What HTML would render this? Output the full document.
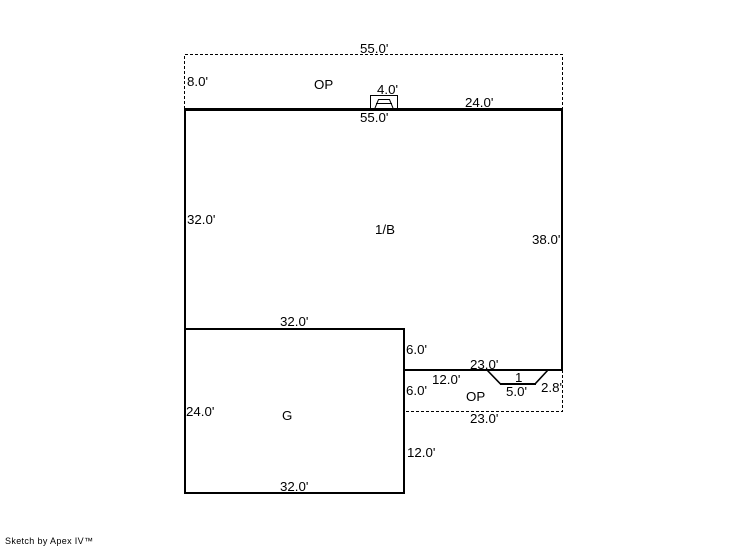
<!DOCTYPE html>
<html><head><meta charset="utf-8"><style>
html,body{margin:0;padding:0;background:#fff}
svg{display:block}
text{font-family:"Liberation Sans",sans-serif;font-size:13.3px;fill:#000}
</style></head><body>
<svg width="746" height="547" viewBox="0 0 746 547" xmlns="http://www.w3.org/2000/svg">
<g fill="none" stroke="#000" stroke-width="1" stroke-dasharray="3 2" shape-rendering="crispEdges">
<path d="M184.5 109V54.5H562.5V109"/>
<path d="M562.5 370V411.5H404"/>
</g>
<g fill="none" stroke="#000" stroke-width="2" shape-rendering="crispEdges">
<path d="M562 109V370H404"/>
<path d="M185 108V493H404V329H185"/>
</g>
<rect x="184" y="108" width="379" height="3" fill="#000" shape-rendering="crispEdges"/>
<g fill="none" stroke="#000" stroke-width="1" shape-rendering="crispEdges">
<path d="M370.5 108V95.5H397.5V108"/>
<path d="M376 103.5H392"/>
</g>
<g fill="none" stroke="#000" stroke-width="1">
<path d="M375 108L378.5 99.5H389.5L393 108"/>
</g>
<path d="M487 370L500.5 384M548 370L535 384" fill="none" stroke="#000" stroke-width="1.6"/>
<rect x="500" y="383" width="36" height="2" fill="#000" shape-rendering="crispEdges"/>
<text x="360" y="53">55.0'</text>
<text x="187" y="86">8.0'</text>
<text x="314" y="89">OP</text>
<text x="377" y="94">4.0'</text>
<text x="465" y="107">24.0'</text>
<text x="360" y="122">55.0'</text>
<text x="187" y="224">32.0'</text>
<text x="375" y="234">1/B</text>
<text x="532" y="244">38.0'</text>
<text x="280" y="326">32.0'</text>
<text x="406" y="354">6.0'</text>
<text x="470" y="369">23.0'</text>
<text x="432" y="384">12.0'</text>
<text x="515" y="382">1</text>
<text x="406" y="395">6.0'</text>
<text x="506" y="396">5.0'</text>
<text x="541" y="392">2.8'</text>
<text x="466" y="401">OP</text>
<text x="186" y="416">24.0'</text>
<text x="282" y="420">G</text>
<text x="470" y="423">23.0'</text>
<text x="407" y="457">12.0'</text>
<text x="280" y="491">32.0'</text>
<text x="5" y="544" style="font-size:9px" textLength="88" lengthAdjust="spacing">Sketch by Apex IV™</text>
</svg>
</body></html>
